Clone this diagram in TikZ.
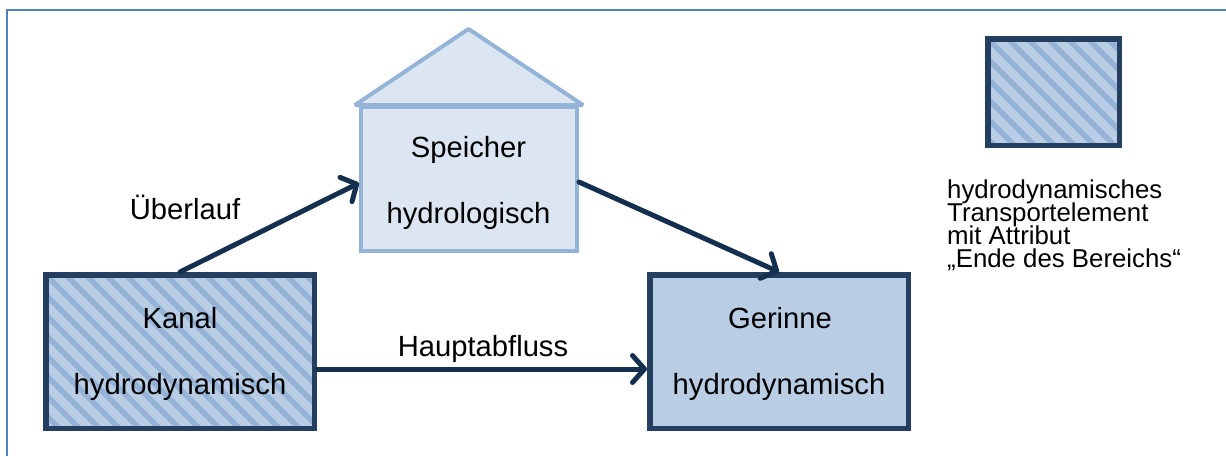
\documentclass[tikz,border=0pt]{standalone}
\usepackage{fontspec}
\setmainfont{Liberation Sans}
\usetikzlibrary{arrows.meta}
\definecolor{frameblue}{HTML}{4F81BD}
\definecolor{navy}{HTML}{243F60}
\definecolor{arrowc}{HTML}{15304F}
\definecolor{lightfill}{HTML}{B9CDE5}
\definecolor{stripec}{HTML}{95B3D7}
\definecolor{paleblue}{HTML}{DCE6F2}
\definecolor{roofline}{HTML}{95B3D7}
\begin{document}
\begin{tikzpicture}[x=1pt,y=-1pt,
  frame/.style={draw=frameblue,line width=2.2pt},
  dynbox/.style={rectangle,draw=navy,line width=5.5pt,fill=lightfill,inner sep=0pt},
  hatched/.style={dynbox,path picture={
      \foreach \k in {-12,...,18}{
        \draw[draw=stripec,line width=5.5pt]
          ([xshift=\k*20pt]path picture bounding box.north west) -- ++(220,220);}}},
  hydbox/.style={rectangle,draw=roofline,line width=4pt,fill=paleblue,inner sep=0pt},
  maintxt/.style={inner sep=0pt,anchor=base,font=\fontsize{29.2}{34}\selectfont},
  legtxt/.style={inner sep=0pt,anchor=base west,font=\fontsize{25.8}{23}\selectfont},
  arr/.style={draw=arrowc,line width=5pt,line cap=round,
    -{Straight Barb[length=12pt,width=27pt,line cap=round,line join=round]}}
]
\useasboundingbox (0,0) rectangle (1226,456);
% frame
\draw[frame] (7,456) -- (7,10) -- (1226,10);

% boxes
\node[hatched,minimum width=268.5pt,minimum height=153.5pt] (kanal) at (180,351.5) {};
\node[dynbox,minimum width=258.5pt,minimum height=153.5pt] (gerinne) at (779,351.5) {};
\node[hydbox,minimum width=216pt,minimum height=144pt] (speicher) at (469,179) {};
\node[hatched,minimum width=131.5pt,minimum height=106.5pt] (legbox) at (1053.5,92) {};

% roof
\draw[draw=roofline,fill=paleblue,line width=4pt,line join=bevel]
  ([xshift=-4pt]speicher.north west) -- (468.5,29) -- ([xshift=4pt]speicher.north east) -- cycle;

% texts
\node[maintxt] (kanal1) at (180,328) {Kanal};
\node[maintxt] (kanal2) at (180,394) {hydrodynamisch};
\node[maintxt] (ger1) at (780,328) {Gerinne};
\node[maintxt] (ger2) at (779,394) {hydrodynamisch};
\node[maintxt] (sp1) at (468.5,157) {Speicher};
\node[maintxt] (sp2) at (468.5,223) {hydrologisch};
\node[maintxt] (lbl1) at (185,219) {Überlauf};
\node[maintxt] (lbl2) at (483,356) {Hauptabfluss};

% legend text
\node[legtxt] (leg1) at (947,198) {hydrodynamisches};
\node[legtxt] (leg2) at (947,221) {Transportelement};
\node[legtxt] (leg3) at (947,244) {mit Attribut};
\node[legtxt] (leg4) at (947,267) {„Ende des Bereichs“};

% arrows
\draw[arr] (kanal.north) -- ([yshift=-4pt]speicher.west);
\draw[arr] ([yshift=-3pt]speicher.east) -- (gerinne.north);
\draw[arr] ([yshift=-17.5pt]kanal.east) -- ([yshift=-17.5pt]gerinne.west);
\end{tikzpicture}
\end{document}
